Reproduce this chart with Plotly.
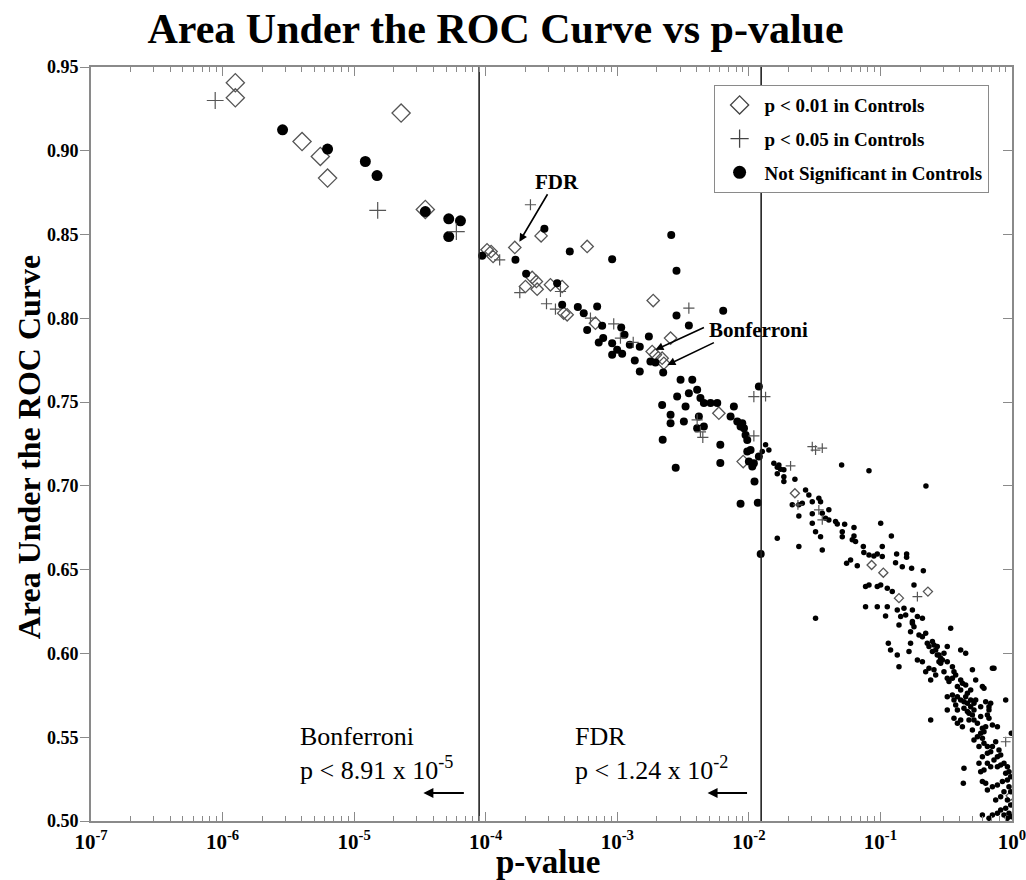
import plotly.graph_objects as go

# ---------------- data (log10 p-value, AUC) ----------------
diamond_log10p = [-5.903, -5.903, -5.396, -5.257, -5.202, -4.643, -4.459,
                  -3.990, -3.959, -3.944, -3.779, -3.579, -3.229, -2.727, -3.647, -3.615, -3.609,
                  -3.698, -3.508, -3.419, -3.407, -3.381, -3.166, -2.735, -2.710, -2.659, -2.646,
                  -2.595, -2.228, -2.043,
                  -1.650, -1.067, -0.978, -0.639, -0.859, -0.010]
diamond_auc = [0.9406, 0.9316, 0.9055, 0.8966, 0.8837, 0.9225, 0.8650,
               0.8409, 0.8399, 0.8369, 0.8423, 0.8492, 0.8429, 0.8106, 0.8244, 0.8220, 0.8174,
               0.8190, 0.8200, 0.8190, 0.8031, 0.8021, 0.7971, 0.7802, 0.7782, 0.7762, 0.7732,
               0.7882, 0.7434, 0.7145,
               0.6956, 0.6528, 0.6482, 0.6369, 0.6330, 0.5150]

plus_log10p = [-6.056, -4.821, -4.223,
               -3.894, -3.660, -3.741, -3.432, -3.538, -3.470, -3.204, -3.027, -2.976, -2.879,
               -2.456, -2.393, -2.350, -2.368, -1.962, -1.962,
               -1.873, -1.518, -1.493, -1.442, -1.683, -1.627, -1.468, -1.442, -0.719, -0.048]
plus_auc = [0.9300, 0.8644, 0.8518,
            0.8349, 0.8678, 0.8154, 0.8160, 0.8087, 0.8055, 0.8001, 0.7967, 0.7882, 0.7856,
            0.8061, 0.7394, 0.7290, 0.7322, 0.7533, 0.7298,
            0.7533, 0.7234, 0.7214, 0.7225, 0.7119, 0.6887, 0.6857, 0.6797, 0.6339, 0.5473]

circle_log10p = [
    -5.544, -5.202, -4.915, -4.826, -4.459, -4.281, -4.192, -4.281,
    -4.027, -3.774, -3.554, -3.361, -3.039, -2.590, -2.550, -2.550, -2.195, -2.456, -3.693,
    -3.457, -3.419, -3.300, -3.255, -3.153, -3.229, -3.115, -2.970, -3.141, -3.107, -3.039,
    -3.001, -3.039, -2.963, -2.945, -2.905, -2.829, -2.760, -2.867, -2.829, -2.748, -2.710,
    -2.651, -2.519, -2.430, -2.393, -2.368, -2.342, -2.291, -2.240, -2.114, -2.659, -2.595,
    -2.481, -2.545, -2.456, -2.595, -2.494, -2.380, -2.393, -2.342, -2.139, -2.088, -2.063,
    -2.655, -2.217, -2.556, -2.217, -1.924, -2.050, -2.037, -2.025, -2.012, -2.012, -1.987,
    -2.000, -1.974, -1.962, -1.957, -1.932, -2.063, -1.924, -1.910,
    -1.898, -1.873, -1.848, -1.810, -1.784, -1.772, -1.759, -1.734, -1.784, -1.734, -1.734,
    -1.650, -1.295, -1.087, -0.654, -1.670, -1.620, -1.594, -1.544, -1.569, -1.518, -1.468,
    -1.455, -1.442, -1.392, -1.620, -1.518, -1.518, -1.493, -1.455, -1.442, -1.620, -1.784,
    -1.417, -1.392, -1.341, -1.328, -1.272, -1.201, -1.290, -1.290, -1.201, -1.189, -1.214,
    -1.130, -1.126, -1.087, -1.050, -1.024, -0.986, -0.917, -0.998, -0.986, -1.493, -1.257,
    -1.227, -1.176, -1.113, -1.087, -1.024, -0.998, -0.948, -0.910, -0.885, -0.877, -0.834,
    -0.801, -0.801, -0.763, -0.745, -0.674, -1.113, -1.024, -0.948, -0.872, -0.821, -0.808,
    -0.757, -0.719, -0.681, -0.846, -0.757, -0.466, -0.961, -0.859, -0.757, -0.771, -0.745,
    -0.707, -0.681, -0.656, -0.644, -0.631, -0.605, -0.593, -0.580, -0.568, -0.555, -0.542,
    -0.555, -0.529, -0.517, -0.492, -0.390, -0.352, -0.137, -0.940, -0.923, -0.872, -0.859,
    -0.783, -0.771, -0.719, -0.681, -0.631, -0.618, -0.656, -0.593, -0.542, -0.580, -0.517,
    -0.492, -0.479, -0.453, -0.428, -0.415, -0.390, -0.377, -0.390, -0.352, -0.301, -0.276,
    -0.225, -0.213, -0.618, -0.492, -0.441, -0.415, -0.390, -0.377, -0.428, -0.415, -0.365,
    -0.339, -0.314, -0.327, -0.301, -0.289, -0.327, -0.492, -0.453, -0.441, -0.415, -0.390,
    -0.365, -0.339, -0.352, -0.314, -0.289, -0.149, -0.048, -0.005, -0.111, -0.162, -0.175,
    -0.187, -0.175, -0.149, -0.200, -0.225, -0.238, -0.263, -0.289, -0.225, -0.251, -0.213,
    -0.187, -0.149, -0.162, -0.124, -0.099, -0.086, -0.111, -0.187, -0.225, -0.137, -0.187,
    -0.162, -0.251, -0.238, -0.213, -0.111, -0.086, -0.061, -0.035, -0.023, -0.010, -0.365,
    -0.370, -0.225, -0.200, -0.187, -0.149, -0.111, -0.073, -0.048, -0.035, -0.023, -0.010,
    -0.061, -0.086, -0.124, -0.035, -0.010, -0.048, -0.086, -0.111, -0.061, -0.023, -0.003,
    -0.035, -0.149, -0.225, -0.175, -0.605, -0.568, -0.492, -0.453, -0.441, -0.339, -0.314,
    -0.276, -0.238, -0.200, -0.175, -0.289, -0.238, -0.263, -0.301, -0.213]
circle_auc = [
    0.9125, 0.9010, 0.8936, 0.8852, 0.8637, 0.8594, 0.8582, 0.8488,
    0.8373, 0.8349, 0.8534, 0.8399, 0.8353, 0.8497, 0.8284, 0.8017, 0.8045, 0.7957, 0.8266,
    0.8210, 0.8081, 0.8067, 0.8031, 0.8070, 0.7931, 0.7955, 0.7945, 0.7856, 0.7882, 0.7852,
    0.7812, 0.7782, 0.7788, 0.7902, 0.7842, 0.7831, 0.7891, 0.7748, 0.7683, 0.7742, 0.7736,
    0.7676, 0.7633, 0.7633, 0.7574, 0.7524, 0.7494, 0.7494, 0.7494, 0.7474, 0.7483, 0.7424,
    0.7474, 0.7533, 0.7553, 0.7374, 0.7384, 0.7414, 0.7344, 0.7354, 0.7414, 0.7384, 0.7354,
    0.7275, 0.7245, 0.7108, 0.7137, 0.7593, 0.7374, 0.7344, 0.7304, 0.7274, 0.7205, 0.7214,
    0.7145, 0.7115, 0.7135, 0.7026, 0.6900, 0.6893, 0.7175, 0.6594,
    0.7205, 0.7245, 0.7214, 0.7135, 0.7111, 0.7125, 0.7100, 0.7096, 0.7072, 0.7055, 0.7026,
    0.7040, 0.7125, 0.7090, 0.7000, 0.6887, 0.6887, 0.6897, 0.6946, 0.6976, 0.6906, 0.6926,
    0.6906, 0.6837, 0.6857, 0.6821, 0.6833, 0.6777, 0.6727, 0.6697, 0.6618, 0.6638, 0.6688,
    0.6807, 0.6797, 0.6787, 0.6773, 0.6771, 0.6751, 0.6727, 0.6697, 0.6701, 0.6668, 0.6678,
    0.6638, 0.6602, 0.6588, 0.6582, 0.6594, 0.6578, 0.6701, 0.6777, 0.6638, 0.6210, 0.6538,
    0.6558, 0.6524, 0.6399, 0.6409, 0.6399, 0.6409, 0.6389, 0.6369, 0.6542, 0.6594, 0.6518,
    0.6594, 0.6574, 0.6508, 0.6409, 0.6494, 0.6279, 0.6279, 0.6279, 0.6260, 0.6270, 0.6230,
    0.6260, 0.6220, 0.6210, 0.6220, 0.6190, 0.6150, 0.6224, 0.6170, 0.6180, 0.6130, 0.6160,
    0.6110, 0.6100, 0.6120, 0.6061, 0.6041, 0.6071, 0.6051, 0.6021, 0.6041, 0.5991, 0.5971,
    0.5951, 0.5961, 0.6001, 0.6041, 0.6021, 0.6001, 0.5912, 0.6061, 0.6021, 0.5991, 0.5921,
    0.6011, 0.6061, 0.5961, 0.5951, 0.5912, 0.5842, 0.5891, 0.5902, 0.5941, 0.5872, 0.5891,
    0.5852, 0.5832, 0.5852, 0.5872, 0.5802, 0.5842, 0.5822, 0.5782, 0.5812, 0.5902, 0.5842,
    0.5802, 0.5792, 0.5603, 0.5663, 0.5613, 0.5583, 0.5603, 0.5563, 0.5693, 0.5663, 0.5673,
    0.5653, 0.5682, 0.5643, 0.5633, 0.5603, 0.5603, 0.5742, 0.5752, 0.5722, 0.5742, 0.5722,
    0.5712, 0.5703, 0.5742, 0.5722, 0.5703, 0.5912, 0.5722, 0.5524, 0.5563, 0.5703, 0.5682,
    0.5633, 0.5613, 0.5573, 0.5563, 0.5553, 0.5524, 0.5503, 0.5484, 0.5494, 0.5444, 0.5464,
    0.5444, 0.5444, 0.5414, 0.5473, 0.5424, 0.5394, 0.5384, 0.5404, 0.5384, 0.5364, 0.5344,
    0.5324, 0.5344, 0.5294, 0.5304, 0.5324, 0.5334, 0.5344, 0.5324, 0.5294, 0.5264, 0.5315,
    0.5225, 0.5235, 0.5225, 0.5185, 0.5205, 0.5215, 0.5235, 0.5285, 0.5245, 0.5205, 0.5175,
    0.5175, 0.5145, 0.5125, 0.5125, 0.5096, 0.5076, 0.5066, 0.5046, 0.5036, 0.5046, 0.5026,
    0.5016, 0.5036, 0.5036, 0.5016, 0.6011, 0.5991, 0.5951, 0.5921, 0.5891, 0.5762, 0.5782,
    0.5722, 0.5682, 0.5712, 0.5663, 0.5663, 0.5623, 0.5583, 0.5543, 0.5533]

bonferroni_p = 8.91e-5
fdr_p = 1.24e-2

x_tickvals = [1e-7, 1e-6, 1e-5, 1e-4, 1e-3, 1e-2, 1e-1, 1]
x_ticktext = ["10<sup>-7</sup>", "10<sup>-6</sup>", "10<sup>-5</sup>", "10<sup>-4</sup>",
              "10<sup>-3</sup>", "10<sup>-2</sup>", "10<sup>-1</sup>", "10<sup>0</sup>"]
y_tickvals = [0.50, 0.55, 0.60, 0.65, 0.70, 0.75, 0.80, 0.85, 0.90, 0.95]
y_ticktext = ["0.50", "0.55", "0.60", "0.65", "0.70", "0.75", "0.80", "0.85", "0.90", "0.95"]

# ---------------- style ----------------
FONT = "Liberation Serif"
GRAY = "#8a8a8a"


def region_sizes(logp, big, mid, small):
    out = []
    for lp in logp:
        p = 10 ** lp
        out.append(big if p < bonferroni_p else (mid if p < fdr_p else small))
    return out


fig = go.Figure()

# vertical threshold lines (on the mirrored right axis)
for thr in (bonferroni_p, fdr_p):
    fig.add_trace(go.Scatter(x=[thr, thr], y=[0.5, 0.95], mode="lines",
                             line=dict(color="#222222", width=1.6),
                             showlegend=False, hoverinfo="skip", yaxis="y2"))

fig.add_trace(go.Scatter(
    x=[10 ** v for v in diamond_log10p], y=diamond_auc, mode="markers", showlegend=False,
    marker=dict(symbol="diamond-open", color="#555555", opacity=1,
                size=region_sizes(diamond_log10p, 14, 9.5, 7), line=dict(width=1.3))))
fig.add_trace(go.Scatter(
    x=[10 ** v for v in circle_log10p], y=circle_auc, mode="markers", showlegend=False,
    marker=dict(symbol="circle", color="black", opacity=1,
                size=region_sizes(circle_log10p, 11, 8, 5.5), line=dict(width=0))))
fig.add_trace(go.Scatter(
    x=[10 ** v for v in plus_log10p], y=plus_auc, mode="markers", showlegend=False,
    marker=dict(symbol="cross-thin", color="#555555", opacity=1,
                size=region_sizes(plus_log10p, 12, 8, 7),
                line=dict(width=1.2, color="#555555"))))

# legend entries
fig.add_trace(go.Scatter(x=[None], y=[None], mode="markers", name="p < 0.01 in Controls",
                         legendgroup="a",
                         marker=dict(symbol="diamond-open", color="#444444", size=14,
                                     line=dict(width=1.3))))
fig.add_trace(go.Scatter(x=[None], y=[None], mode="markers", name="p < 0.05 in Controls",
                         legendgroup="b",
                         marker=dict(symbol="cross-thin", size=13,
                                     line=dict(width=1.3, color="#444444"))))
fig.add_trace(go.Scatter(x=[None], y=[None], mode="markers", name="Not Significant in Controls",
                         legendgroup="c",
                         marker=dict(symbol="circle", color="black", size=13)))

ann_font = dict(family=FONT, size=21, color="black", weight="bold")
big_font = dict(family=FONT, size=26, color="black")
annotations = [
    # axis titles
    dict(x=-0.067, y=0.496, xref="paper", yref="paper", text="Area Under the ROC Curve",
         textangle=-90, showarrow=False, xanchor="center", yanchor="middle",
         font=dict(family=FONT, size=32, color="black", weight="bold")),
    dict(x=0.497, y=-0.0544, xref="paper", yref="paper", text="p-value",
         showarrow=False, xanchor="center", yanchor="middle",
         font=dict(family=FONT, size=33, color="black", weight="bold")),
    # arrow labels
    dict(x=-3.46, y=0.8815, xref="x", yref="y", text="FDR", showarrow=False, font=ann_font),
    dict(x=-3.744, y=0.8457, xref="x", yref="y", text="", showarrow=True, ax=29, ay=-49,
         arrowhead=2, arrowsize=1, arrowwidth=1.6, arrowcolor="black"),
    dict(x=-1.926, y=0.7931, xref="x", yref="y", text="Bonferroni", showarrow=False,
         font=ann_font),
    dict(x=-2.710, y=0.7812, xref="x", yref="y", text="", showarrow=True, ax=50, ay=-23,
         arrowhead=2, arrowsize=1, arrowwidth=1.6, arrowcolor="black"),
    dict(x=-2.619, y=0.7722, xref="x", yref="y", text="", showarrow=True, ax=48, ay=-23,
         arrowhead=2, arrowsize=1, arrowwidth=1.6, arrowcolor="black"),
    # threshold notes
    dict(x=-5.424, y=0.5403, xref="x", yref="y", xanchor="left", align="left",
         text="Bonferroni<br>p < 8.91 x 10<sup>-5</sup>", showarrow=False, font=big_font),
    dict(x=-3.333, y=0.5403, xref="x", yref="y", xanchor="left", align="left",
         text="FDR<br>p < 1.24 x 10<sup>-2</sup>", showarrow=False, font=big_font),
    dict(x=-4.474, y=0.5167, xref="x", yref="y", text="", showarrow=True, ax=42, ay=0,
         arrowhead=2, arrowsize=1, arrowwidth=2, arrowcolor="black"),
    dict(x=-2.314, y=0.5167, xref="x", yref="y", text="", showarrow=True, ax=41, ay=0,
         arrowhead=2, arrowsize=1, arrowwidth=2, arrowcolor="black"),
]

fig.update_layout(
    width=1026, height=880,
    margin=dict(l=91, r=14, t=67, b=59, autoexpand=False),
    paper_bgcolor="white", plot_bgcolor="white",
    title=dict(text="Area Under the ROC Curve vs p-value", x=0.483, xanchor="center",
               y=0.968, yanchor="middle", xref="container", yref="container",
               font=dict(family=FONT, size=42, color="black", weight="bold")),
    xaxis=dict(type="log", range=[-7, 0], tickvals=x_tickvals, ticktext=x_ticktext,
               ticks="inside", ticklen=9, tickwidth=1.2, tickcolor=GRAY,
               showline=True, linecolor=GRAY, linewidth=2, mirror="ticks",
               showgrid=False, zeroline=False, automargin=False, ticklabelstandoff=1,
               ticklabeloverflow="allow",
               tickfont=dict(family=FONT, size=21, color="black", weight="bold"),
               minor=dict(ticks="inside", ticklen=5, tickwidth=1.2, tickcolor=GRAY,
                          dtick="D1", showgrid=False)),
    yaxis=dict(range=[0.5, 0.95], tickvals=y_tickvals, ticktext=y_ticktext,
               ticks="outside", ticklen=9, tickwidth=1.2, tickcolor=GRAY,
               showline=True, linecolor=GRAY, linewidth=2, mirror=True,
               showgrid=False, zeroline=False, automargin=False, ticklabelstandoff=-2,
               ticklabeloverflow="allow",
               tickfont=dict(family=FONT, size=18, color="black", weight="bold")),
    yaxis2=dict(range=[0.5, 0.95], overlaying="y", side="right", tickvals=y_tickvals,
                ticks="inside", ticklen=9, tickwidth=1.2, tickcolor=GRAY, automargin=False,
                showticklabels=False, showline=False, showgrid=False, zeroline=False),
    legend=dict(x=0.676, y=0.976, xanchor="left", yanchor="top",
                bgcolor="white", bordercolor=GRAY, borderwidth=1,
                font=dict(family=FONT, size=19, color="black", weight="bold"),
                traceorder="grouped", tracegroupgap=6, itemwidth=40),
    annotations=annotations,
    showlegend=True,
)

fig.write_html("out.html")
